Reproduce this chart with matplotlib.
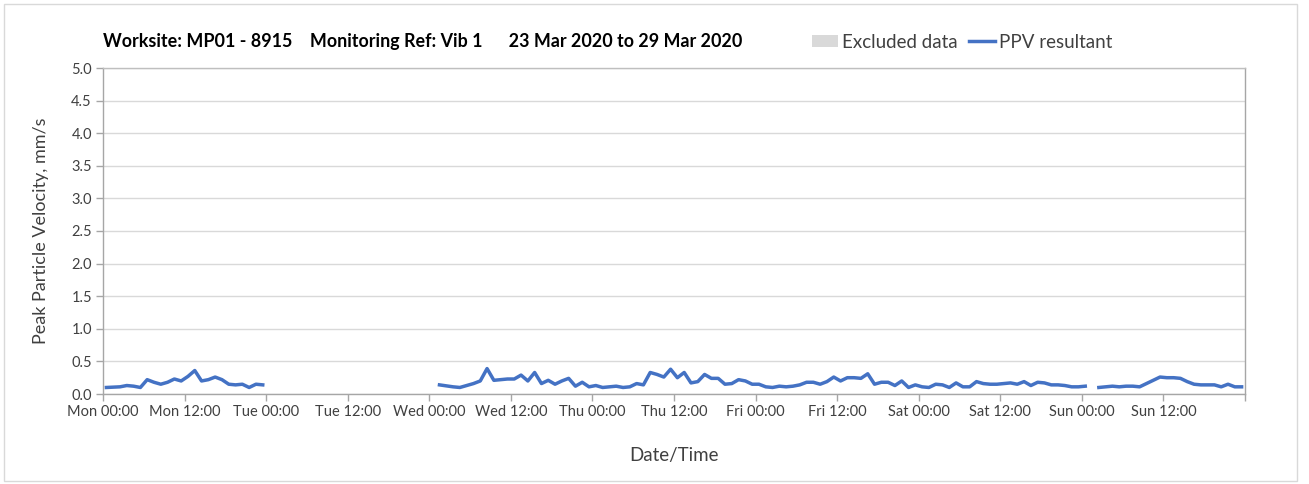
import numpy as np
import matplotlib
matplotlib.use("Agg")
import matplotlib.pyplot as plt
from matplotlib.patches import Patch, Rectangle
from matplotlib.lines import Line2D

plt.rcParams['font.family'] = ['Lato', 'DejaVu Sans']

nan = np.nan
# hourly PPV resultant (mm/s), one value per hour, stamped at hh:30
mon = [0.10, 0.105, 0.11, 0.13, 0.12, 0.10, 0.22, 0.18, 0.15, 0.18, 0.23, 0.20,
       0.27, 0.36, 0.20, 0.22, 0.26, 0.22, 0.15, 0.14, 0.15, 0.10, 0.15, 0.14]
tue = [nan] * 24
wed = [nan, 0.14, 0.125, 0.11, 0.10, 0.13, 0.16, 0.20, 0.39, 0.21, 0.22, 0.23,
       0.23, 0.29, 0.20, 0.33, 0.16, 0.21, 0.15, 0.20, 0.24, 0.12, 0.18, 0.11]
thu = [0.13, 0.10, 0.11, 0.12, 0.10, 0.11, 0.16, 0.14, 0.33, 0.30, 0.26, 0.38,
       0.25, 0.33, 0.17, 0.19, 0.30, 0.24, 0.24, 0.15, 0.16, 0.22, 0.20, 0.15]
fri = [0.15, 0.11, 0.10, 0.12, 0.11, 0.12, 0.14, 0.18, 0.18, 0.15, 0.19, 0.26,
       0.20, 0.25, 0.25, 0.24, 0.31, 0.15, 0.18, 0.18, 0.13, 0.20, 0.10, 0.14]
sat = [0.11, 0.10, 0.15, 0.14, 0.10, 0.17, 0.11, 0.11, 0.19, 0.16, 0.15, 0.15,
       0.16, 0.17, 0.15, 0.19, 0.13, 0.18, 0.17, 0.14, 0.14, 0.13, 0.11, 0.11]
sun = [0.12, nan, 0.10, 0.11, 0.12, 0.11, 0.12, 0.12, 0.11, 0.16, 0.21, 0.26,
       0.25, 0.25, 0.24, 0.19, 0.15, 0.14, 0.14, 0.14, 0.11, 0.15, 0.11, 0.11]

ppv = np.array(mon + tue + wed + thu + fri + sat + sun)
hours = np.arange(len(ppv)) + 0.5

tick_labels = ["Mon 00:00", "Mon 12:00", "Tue 00:00", "Tue 12:00", "Wed 00:00",
               "Wed 12:00", "Thu 00:00", "Thu 12:00", "Fri 00:00", "Fri 12:00",
               "Sat 00:00", "Sat 12:00", "Sun 00:00", "Sun 12:00", ""]

title = "Worksite: MP01 - 8915    Monitoring Ref: Vib 1      23 Mar 2020 to 29 Mar 2020"

txt = '#404040'
fig = plt.figure(figsize=(13.09, 4.84), dpi=100)
ax = fig.add_axes([103/1309, 1-394/484, (1245-103)/1309, (394-68)/484])

ax.plot(hours, ppv, color='#4472C4', lw=2.5, solid_joinstyle='round')

ax.set_xlim(0, 168)
ax.set_ylim(0, 5)
ax.set_xticks(np.arange(0, 169, 12))
ax.set_xticklabels(tick_labels)
ax.set_xticks(np.arange(24, 168, 24), minor=True)
ax.set_yticks(np.arange(0, 5.01, 0.5))
ax.set_yticklabels([f"{v:.1f}" for v in np.arange(0, 5.01, 0.5)])

ax.grid(axis='y', which='major', color='#d9d9d9', lw=1)
ax.grid(axis='x', which='minor', color='#d9d9d9', lw=1)
ax.grid(axis='x', which='major', visible=False)
ax.set_axisbelow(True)

ax.tick_params(axis='both', which='major', length=5, width=1, color='#a6a6a6',
               labelsize=10.5, labelcolor=txt, pad=3)
ax.tick_params(axis='x', which='minor', length=0)
for s in ax.spines.values():
    s.set_color('#a6a6a6')
    s.set_linewidth(1)
ax.spines['top'].set_color('#bfbfbf')

ax.set_ylabel("Peak Particle Velocity, mm/s", fontsize=13, color=txt, labelpad=16)
ax.set_xlabel("Date/Time", fontsize=13.5, color=txt, labelpad=20)

fig.text(103/1309, 1-41/484, title, fontsize=12.9, fontweight='bold', color='black',
         va='center', ha='left')

handles = [Patch(facecolor='#d9d9d9', edgecolor='none'),
           Line2D([0], [0], color='#4472C4', lw=2.5)]
fig.legend(handles, ["Excluded data", "PPV resultant"], loc='center left',
           bbox_to_anchor=(812/1309, 1-42/484), ncol=2, frameon=False,
           fontsize=13.5, labelcolor=txt, handlelength=1.4, handletextpad=0.2,
           columnspacing=0.6, handleheight=0.6, borderaxespad=0, borderpad=0)

fig.patches.append(Rectangle((4/1309, 3/484), 1293/1309, 477/484, transform=fig.transFigure,
                             fill=False, edgecolor='#d9d9d9', lw=1))

fig.savefig("out.png", dpi=100)
